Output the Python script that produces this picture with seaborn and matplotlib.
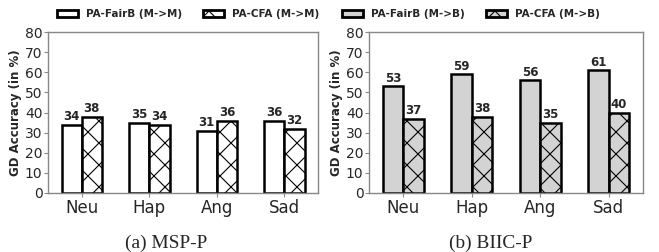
import pandas as pd
import matplotlib
matplotlib.use("Agg")
import matplotlib.pyplot as plt
import seaborn as sns

# values
emotions = ["Neu", "Hap", "Ang", "Sad"]
msp_fairb = [34, 35, 31, 36]
msp_cfa = [38, 34, 36, 32]
biic_fairb = [53, 59, 56, 61]
biic_cfa = [37, 38, 35, 40]
yticks = [0, 10, 20, 30, 40, 50, 60, 70, 80]

# low dpi so the 'x' hatch comes out as dense as in the reference;
# sizes below are tuned for 100 dpi and rescaled with pt()
DPI = 66
W, H = 659, 252


def pt(v):
    return v * 100 / DPI


sns.set_theme(style="white")
plt.rcParams["font.family"] = ["DejaVu Sans"]
plt.rcParams["hatch.linewidth"] = pt(0.8)
plt.rcParams["hatch.color"] = "#333333"

fig = plt.figure(figsize=(W / DPI, H / DPI), dpi=DPI)
ax_a = fig.add_axes([48 / W, 59 / H, 270 / W, 161 / H])
ax_b = fig.add_axes([369 / W, 59 / H, 274 / W, 161 / H])


def draw_panel(ax, fairb, cfa, names, face, legend_x, caption, caption_x):
    df = pd.DataFrame({
        "emotion": emotions * 2,
        "acc": fairb + cfa,
        "method": [names[0]] * 4 + [names[1]] * 4,
    })
    sns.barplot(data=df, x="emotion", y="acc", hue="method",
                palette=[face, face], edgecolor="black", linewidth=pt(1.8),
                width=0.6, saturation=1, ax=ax)
    # hatch the CFA bars
    for patch in ax.containers[1]:
        patch.set_hatch("x")
    for cont in ax.containers:
        ax.bar_label(cont, fmt="%.0f", fontsize=pt(8.5), fontweight="bold",
                     padding=pt(1))

    ax.get_legend().remove()
    handles = [ax.containers[0][0], ax.containers[1][0]]
    leg = fig.legend(handles, names, loc="center",
                     bbox_to_anchor=(legend_x, 0.944), ncol=2, frameon=False,
                     prop={"weight": "bold", "size": pt(7.5)},
                     handlelength=2.0, handleheight=0.75, handletextpad=0.8,
                     columnspacing=2.0)
    for h in leg.legend_handles:
        h.set_linewidth(pt(2))

    ax.set_ylim(0, 80)
    ax.set_yticks(yticks)
    ax.set_xlim(-0.5, 3.5)
    ax.set_xlabel("")
    ax.set_ylabel("GD Accuracy (in %)", fontsize=pt(8.5), fontweight="bold",
                  labelpad=pt(2))
    ax.tick_params(axis="x", labelsize=pt(12), length=pt(3), width=pt(0.8),
                   color="#888888", pad=pt(1))
    ax.tick_params(axis="y", labelsize=pt(10), length=pt(3), width=pt(0.8),
                   color="#888888", pad=pt(1))
    ax.tick_params(bottom=True, left=True)
    for sp in ax.spines.values():
        sp.set_color("#888888")
        sp.set_linewidth(pt(1))

    fig.text(caption_x, 1 - 243 / H, caption, ha="center", va="center",
             fontsize=pt(14), family="Liberation Serif")


draw_panel(ax_a, msp_fairb, msp_cfa, ["PA-FairB (M->M)", "PA-CFA (M->M)"],
           "white", 188 / W, "(a) MSP-P", 166 / W)
draw_panel(ax_b, biic_fairb, biic_cfa, ["PA-FairB (M->B)", "PA-CFA (M->B)"],
           "#d3d3d3", 471 / W, "(b) BIIC-P", 491 / W)

fig.savefig("out.png", dpi=DPI)
